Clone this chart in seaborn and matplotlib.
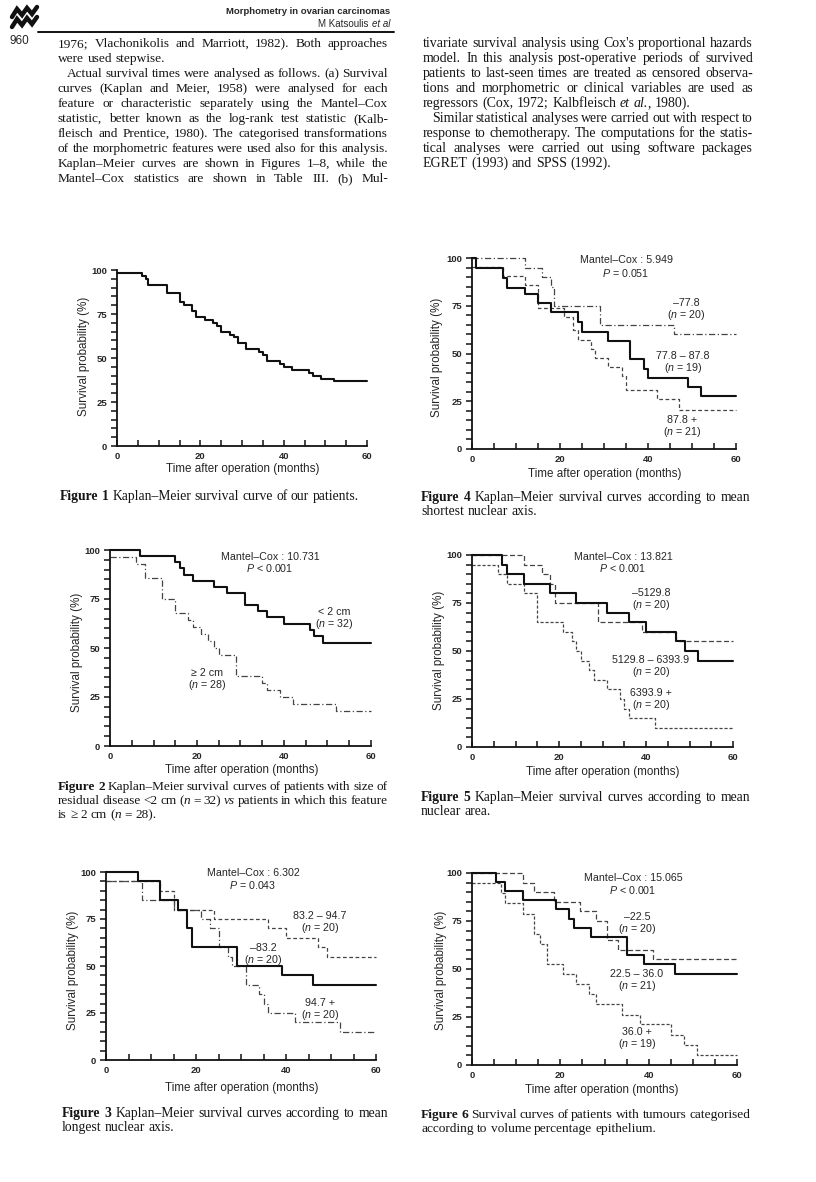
import re
import numpy as np
import pandas as pd
import matplotlib
matplotlib.use("Agg")
import matplotlib.pyplot as plt
from matplotlib.lines import Line2D
import seaborn as sns

# ---- Kaplan-Meier curves (time in months, survival in %) ----
f1_t = [0, 6, 7, 7.5, 12, 15, 16, 18, 19, 21, 23, 24, 25, 27, 28, 29, 31, 34, 35, 36, 39, 40, 42, 46, 47, 49, 52, 60]
f1_s = [98.3, 96.7, 95.0, 91.7, 86.7, 81.7, 80.0, 76.7, 73.3, 71.7, 70.0, 68.3, 65.0, 63.3, 61.7, 58.3, 55.0, 53.3,
        51.7, 48.3, 46.7, 45.0, 43.3, 41.7, 40.0, 38.3, 36.7, 36.7]

# fig 2 : residual disease
f2_lt2_t = [0, 7, 15, 16, 17, 19, 24, 27, 31, 34, 36, 40, 46, 47, 49, 60]
f2_lt2_s = [100, 96.9, 93.8, 90.6, 87.5, 84.4, 81.3, 78.1, 71.9, 68.8, 65.6, 62.5, 59.4, 56.3, 52.7, 52.7]
f2_ge2_t = [0, 6, 8, 12, 15, 18, 19, 21, 22.5, 24, 25, 29, 35, 36, 39, 42, 52, 60]
f2_ge2_s = [96.4, 92.9, 85.7, 75.0, 67.9, 64.3, 60.7, 57.1, 53.6, 50.0, 46.4, 35.7, 32.1, 28.6, 25.0, 21.4, 17.9, 17.9]

# fig 3 : mean longest nuclear axis
f3_low_t = [0, 7, 12, 16, 18, 19, 29, 39, 46, 60]
f3_low_s = [100, 95, 85, 80, 70, 60, 50, 45, 40, 40]
f3_mid_t = [0, 12, 15, 24, 36, 40, 47, 49, 60]
f3_mid_s = [95, 90, 80, 75, 70, 65, 60, 55, 55]
f3_high_t = [0, 8, 15, 21, 23, 25, 27, 28, 31, 34, 35, 36, 42, 52, 60]
f3_high_s = [95, 85, 80, 75, 70, 60, 55, 50, 40, 35, 30, 25, 20, 15, 15]

# fig 4 : mean shortest nuclear axis
f4_low_t = [0, 12, 16, 18, 18.7, 29, 46, 60]
f4_low_s = [100, 95, 90, 85, 75, 65, 60, 60]
f4_mid_t = [0, 1, 7, 8, 12, 15, 18, 24, 25, 31, 36, 39, 40, 49, 52, 60]
f4_mid_s = [100, 94.7, 89.5, 84.2, 81.0, 76.3, 71.5, 66.5, 61.3, 56.6, 46.9, 42.0, 37.3, 32.4, 27.7, 27.7]
f4_high_t = [0, 7, 12, 15, 21, 23, 24, 27, 28, 31, 34, 35, 42, 47, 60]
f4_high_s = [95.2, 90.5, 85.7, 73.8, 69.0, 62.5, 57.1, 52.4, 47.6, 42.9, 38.1, 31.0, 26.2, 20.5, 20.5]

# fig 5 : mean nuclear area
f5_low_t = [0, 7, 8, 12, 18, 24, 31, 36, 40, 47, 49, 52, 60]
f5_low_s = [100, 95, 90, 85, 80, 75, 70, 65, 60, 55, 50, 45, 45]
f5_mid_t = [0, 12, 16, 18, 19, 29, 39, 47, 60]
f5_mid_s = [100, 95, 90, 85, 75, 65, 60, 55, 55]
f5_high_t = [0, 6, 8, 12, 15, 21, 23, 24, 25, 27, 28, 31, 34, 35, 36, 42, 60]
f5_high_s = [95, 90, 85, 80, 65, 60, 55, 50, 45, 40, 35, 30, 25, 20, 15, 10, 10]

# fig 6 : volume percentage epithelium
f6_low_t = [0, 11.5, 14, 18.5, 24.5, 28, 30.5, 33, 41, 60]
f6_low_s = [100, 95, 90, 85, 80, 75, 65, 60, 55, 55]
f6_mid_t = [0, 5.5, 7.5, 11.5, 19, 22, 23, 27, 35, 39, 46, 60]
f6_mid_s = [100, 95.2, 90.5, 85.7, 81.0, 76.2, 71.4, 66.7, 57.1, 52.4, 47.6, 47.6]
f6_high_t = [0, 6.5, 7.5, 11.5, 14, 15.5, 17, 20.5, 23.5, 26.5, 28, 34, 38, 45, 48, 51, 60]
f6_high_s = [94.7, 89.5, 84.2, 78.9, 68.4, 63.2, 52.6, 47.4, 42.1, 36.8, 31.6, 26.3, 21.1, 15.8, 10.5, 5.3, 5.3]

# group labels / statistics
f2_groups = ["< 2 cm", "\u2265 2 cm"]
f2_n = [32, 28]
f3_groups = ["83.2 \u2013 94.7", "\u201383.2", "94.7 +"]
f3_n = [20, 20, 20]
f4_groups = ["\u201377.8", "77.8 \u2013 87.8", "87.8 +"]
f4_n = [20, 19, 21]
f5_groups = ["\u20135129.8", "5129.8 \u2013 6393.9", "6393.9 +"]
f5_n = [20, 20, 20]
f6_groups = ["\u201322.5", "22.5 \u2013 36.0", "36.0 +"]
f6_n = [20, 21, 19]
mantel_cox = {2: ("10.731", "< 0.001"), 3: ("6.302", "= 0.043"), 4: ("5.949", "= 0.051"),
              5: ("13.821", "< 0.001"), 6: ("15.065", "< 0.001")}

x_ticks = [0, 20, 40, 60]
y_ticks = [0, 25, 50, 75, 100]

left_col = [
    "1976; Vlachonikolis and Marriott, 1982). Both approaches",
    "were used stepwise.",
    "Actual survival times were analysed as follows. (a) Survival",
    "curves (Kaplan and Meier, 1958) were analysed for each",
    "feature or characteristic separately using the Mantel\u2013Cox",
    "statistic, better known as the log-rank test statistic (Kalb-",
    "fleisch and Prentice, 1980). The categorised transformations",
    "of the morphometric features were used also for this analysis.",
    "Kaplan\u2013Meier curves are shown in Figures 1\u20138, while the",
    "Mantel\u2013Cox statistics are shown in Table III. (b) Mul-",
]
right_col = [
    "tivariate survival analysis using Cox's proportional hazards",
    "model. In this analysis post-operative periods of survived",
    "patients to last-seen times are treated as censored observa-",
    "tions and morphometric or clinical variables are used as",
    "regressors (Cox, 1972; Kalbfleisch _et_ _al._, 1980).",
    "Similar statistical analyses were carried out with respect to",
    "response to chemotherapy. The computations for the statis-",
    "tical analyses were carried out using software packages",
    "EGRET (1993) and SPSS (1992).",
]
captions = {
    1: ["*Figure* *1*  Kaplan\u2013Meier survival curve of our patients."],
    2: ["*Figure* *2*  Kaplan\u2013Meier survival curves of patients with size of",
        "residual disease <2 cm (_n_ = 32) _vs_ patients in which this feature",
        "is  \u2265 2 cm  (_n_ = 28)."],
    3: ["*Figure* *3*  Kaplan\u2013Meier survival curves according to mean",
        "longest nuclear axis."],
    4: ["*Figure* *4*  Kaplan\u2013Meier survival curves according to mean",
        "shortest nuclear axis."],
    5: ["*Figure* *5*  Kaplan\u2013Meier survival curves according to mean",
        "nuclear area."],
    6: ["*Figure* *6*  Survival curves of patients with tumours categorised",
        "according to volume percentage epithelium."],
}

W, H = 816, 1182
SANS = ["Liberation Sans", "DejaVu Sans"]
SERIF = ["Liberation Serif", "DejaVu Serif"]
NARROW = ["Liberation Sans Narrow", "Liberation Sans"]

sns.set_theme(style="ticks")
plt.rcParams["font.family"] = SANS
plt.rcParams["mathtext.fontset"] = "custom"
plt.rcParams["mathtext.rm"] = "Liberation Sans"
plt.rcParams["mathtext.it"] = "Liberation Sans:italic"
plt.rcParams["mathtext.bf"] = "Liberation Sans:bold"

fig = plt.figure(figsize=(W / 100, H / 100), dpi=100)
fig.patch.set_facecolor("white")
renderer = fig.canvas.get_renderer()


def fx(x):
    return x / W


def fy(y):
    return 1 - y / H


def km_axes(x0, x1, ytop, ybot):
    ax = fig.add_axes([fx(x0), fy(ybot), (x1 - x0) / W, (ybot - ytop) / H])
    ax.set_xlim(0, 60)
    ax.set_ylim(0, 100)
    sns.despine(ax=ax)
    for sp in ["left", "bottom"]:
        ax.spines[sp].set_linewidth(1.3)
        ax.spines[sp].set_color("#111111")
    ax.set_xticks(x_ticks)
    ax.set_xticks(np.arange(0, 61, 5), minor=True)
    ax.set_yticks(y_ticks)
    ax.set_yticks(np.arange(0, 101, 5), minor=True)
    ax.tick_params(axis="x", which="both", direction="in", length=4, width=1.1, pad=4,
                   labelsize=6.8, color="#111111")
    ax.tick_params(axis="y", which="both", direction="out", length=4, width=1.1, pad=3,
                   labelsize=6.8, color="#111111")
    for lab in ax.get_xticklabels() + ax.get_yticklabels():
        lab.set_fontweight("bold")
    ax.patch.set_alpha(0)
    return ax


def km_curve(ax, t, s, ls="-", lw=1.5, color="#111111"):
    df = pd.DataFrame({"t": t, "s": s})
    sns.lineplot(data=df, x="t", y="s", ax=ax, estimator=None, sort=False,
                 drawstyle="steps-post", color=color, linewidth=lw, linestyle=ls, clip_on=False)
    ax.set_xlabel("")
    ax.set_ylabel("")


def axis_labels(xc, yx, ylx, yly):
    fig.text(fx(xc), fy(yx), "Time after operation (months)", ha="center", va="center", fontsize=8.4)
    fig.text(fx(ylx), fy(yly), "Survival probability (%)", ha="center", va="center",
             rotation=90, fontsize=8.4)


def note(x, y, s, size=7.7):
    fig.text(fx(x), fy(y), s, ha="center", va="center", fontsize=size)


def segs(word):
    out = []
    for p in re.split(r"(_[^_]+_|\*[^*]+\*)", word):
        if not p:
            continue
        if p[0] == "_":
            out.append((p[1:-1], "normal", "italic"))
        elif p[0] == "*":
            out.append((p[1:-1], "bold", "normal"))
        else:
            out.append((p, "normal", "normal"))
    return out


def build_line(y, line, size):
    base = y + size * 0.42
    groups = []
    for w in line.split():
        arts = []
        for txt, weight, style in segs(w):
            a = fig.text(0, fy(base), txt, fontsize=size, family=SERIF, weight=weight,
                         style=style, va="baseline", ha="left", color="#151515")
            arts.append((a, a.get_window_extent(renderer).width))
        groups.append(arts)
    return groups


def natural_width(line, size):
    groups = build_line(0, line, size)
    total = sum(w1 for g in groups for _, w1 in g) + size * 100 / 72 * 0.2 * (len(groups) - 1)
    for g in groups:
        for a, _ in g:
            a.remove()
    return total


def place_line(x0, x1, y, line, size, justify):
    groups = build_line(y, line, size)
    widths = [sum(wd for _, wd in g) for g in groups]
    if justify and len(groups) > 1:
        gap = (x1 - x0 - sum(widths)) / (len(groups) - 1)
    else:
        gap = size * 100 / 72 * 0.25
    x = x0
    for g, wd in zip(groups, widths):
        xx = x
        for a, w1 in g:
            a.set_x(fx(xx))
            xx += w1
        x += wd + gap


def paragraph(x0, x1, y0, step, lines, size, last_lines=(), indents=()):
    # one common font size per block, small enough for every line to fit
    for i, line in enumerate(lines):
        ind = 9 if i in indents else 0
        while natural_width(line, size) > (x1 - x0 - ind) and size > 7:
            size -= 0.1
    for i, line in enumerate(lines):
        ind = 9 if i in indents else 0
        place_line(x0 + ind, x1, y0 + i * step, line, size, justify=i not in last_lines)


# ---- page header ----
logo_x = np.array([12, 17, 22, 27, 32, 37])
for dy in (0, 10):
    fig.add_artist(Line2D(fx(logo_x), fy(np.array([17, 9, 15, 8, 14, 7]) + dy),
                          transform=fig.transFigure, color="#111111", lw=3.2, solid_joinstyle="miter"))
fig.text(fx(390), fy(11), "Morphometry in ovarian carcinomas", ha="right", va="center",
         fontsize=6.8, weight="bold", family=NARROW)
t_al = fig.text(fx(390), fy(24), "et al", ha="right", va="center", fontsize=7.0, style="italic",
                family=NARROW)
w_al = t_al.get_window_extent(renderer).width
fig.text(fx(390 - w_al - 3), fy(24), "M Katsoulis", ha="right", va="center", fontsize=7.0,
         family=NARROW)
fig.add_artist(Line2D([fx(38), fx(394)], [fy(31.5), fy(31.5)], transform=fig.transFigure,
                      color="#111111", lw=1.4))
fig.text(fx(10), fy(41), "960", ha="left", va="center", fontsize=8.5, family=NARROW)

paragraph(58, 388, 43, 15, left_col, 10.6, last_lines=(1,), indents=(2,))
paragraph(423, 753, 43, 15, right_col, 10.6, last_lines=(4, 8), indents=(5,))

# ---- Figure 1 ----
ax1 = km_axes(117, 367, 270, 446)
km_curve(ax1, f1_t, f1_s)
axis_labels(243, 469, 84, 356)
paragraph(60, 388, 496, 14, captions[1], 9.8, last_lines=(0,))

# ---- Figure 4 ----
ax4 = km_axes(472, 736, 258, 449)
km_curve(ax4, f4_low_t, f4_low_s, ls=(0, (5, 2, 1, 2)), lw=0.9, color="#444444")
km_curve(ax4, f4_high_t, f4_high_s, ls=(0, (3, 2)), lw=0.9, color="#444444")
km_curve(ax4, f4_mid_t, f4_mid_s)
axis_labels(605, 474, 437, 357)
note(626, 260, "Mantel\u2013Cox : " + mantel_cox[4][0])
note(626, 273, "$P$ " + mantel_cox[4][1])
for (gx, gy), g, n in zip([(686, 303), (683, 356), (682, 420)], f4_groups, f4_n):
    note(gx, gy, g)
    note(gx, gy + 12, "($n$ = %d)" % n)
paragraph(421, 750, 497, 14, captions[4], 9.8, last_lines=(1,))

# ---- Figure 2 ----
ax2 = km_axes(110, 371, 550, 746)
km_curve(ax2, f2_ge2_t, f2_ge2_s, ls=(0, (5, 2, 1, 2)), lw=0.9, color="#444444")
km_curve(ax2, f2_lt2_t, f2_lt2_s)
axis_labels(242, 770, 77, 652)
note(270, 557, "Mantel\u2013Cox : " + mantel_cox[2][0])
note(270, 568, "$P$ " + mantel_cox[2][1])
for (gx, gy), g, n in zip([(334, 612), (207, 673)], f2_groups, f2_n):
    note(gx, gy, g)
    note(gx, gy + 12, "($n$ = %d)" % n)
paragraph(58, 388, 786, 14, captions[2], 9.8, last_lines=(2,))

# ---- Figure 5 ----
ax5 = km_axes(472, 733, 555, 747)
km_curve(ax5, f5_mid_t, f5_mid_s, ls=(0, (4, 2)), lw=0.9, color="#444444")
km_curve(ax5, f5_high_t, f5_high_s, ls=(0, (2.5, 1.5)), lw=0.9, color="#444444")
km_curve(ax5, f5_low_t, f5_low_s)
axis_labels(603, 772, 439, 650)
note(623, 557, "Mantel\u2013Cox : " + mantel_cox[5][0])
note(623, 568, "$P$ " + mantel_cox[5][1])
for (gx, gy), g, n in zip([(651, 593), (651, 660), (651, 693)], f5_groups, f5_n):
    note(gx, gy, g)
    note(gx, gy + 12, "($n$ = %d)" % n)
paragraph(421, 750, 797, 14, captions[5], 9.8, last_lines=(1,))

# ---- Figure 3 ----
ax3 = km_axes(106, 376, 872, 1060)
km_curve(ax3, f3_mid_t, f3_mid_s, ls=(0, (3, 2)), lw=0.9, color="#444444")
km_curve(ax3, f3_high_t, f3_high_s, ls=(0, (5, 2, 1, 2)), lw=0.9, color="#444444")
km_curve(ax3, f3_low_t, f3_low_s)
axis_labels(242, 1088, 73, 970)
note(253, 873, "Mantel\u2013Cox : " + mantel_cox[3][0])
note(253, 885, "$P$ " + mantel_cox[3][1])
for (gx, gy), g, n in zip([(320, 916), (263, 948), (320, 1003)], f3_groups, f3_n):
    note(gx, gy, g)
    note(gx, gy + 12, "($n$ = %d)" % n)
paragraph(62, 388, 1113, 14, captions[3], 9.8, last_lines=(1,))

# ---- Figure 6 ----
ax6 = km_axes(472, 737, 873, 1065)
km_curve(ax6, f6_low_t, f6_low_s, ls=(0, (4, 2)), lw=0.9, color="#444444")
km_curve(ax6, f6_high_t, f6_high_s, ls=(0, (2.5, 1.5)), lw=0.9, color="#444444")
km_curve(ax6, f6_mid_t, f6_mid_s)
axis_labels(602, 1090, 441, 970)
note(633, 878, "Mantel\u2013Cox : " + mantel_cox[6][0])
note(633, 890, "$P$ " + mantel_cox[6][1])
for (gx, gy), g, n in zip([(637, 917), (637, 974), (637, 1032)], f6_groups, f6_n):
    note(gx, gy, g)
    note(gx, gy + 12, "($n$ = %d)" % n)
paragraph(421, 750, 1114, 14, captions[6], 9.8, last_lines=(1,))

fig.savefig("out.png", dpi=100, facecolor="white")
